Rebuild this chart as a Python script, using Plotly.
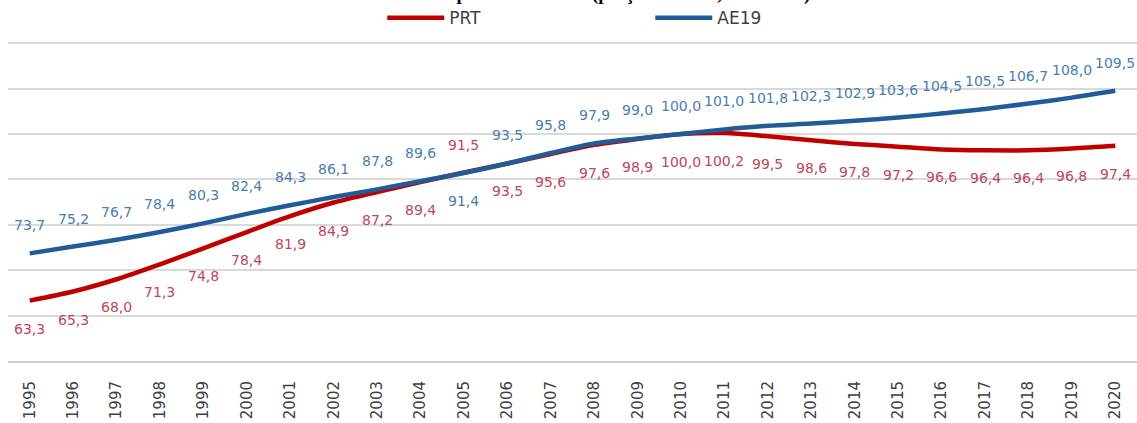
import plotly.graph_objects as go

# Index values (2010 = 100)
years = [str(y) for y in range(1995, 2021)]
prt = [63.3, 65.3, 68.0, 71.3, 74.8, 78.4, 81.9, 84.9, 87.2, 89.4, 91.5, 93.5, 95.6,
       97.6, 98.9, 100.0, 100.2, 99.5, 98.6, 97.8, 97.2, 96.6, 96.4, 96.4, 96.8, 97.4]
ae19 = [73.7, 75.2, 76.7, 78.4, 80.3, 82.4, 84.3, 86.1, 87.8, 89.6, 91.4, 93.5, 95.8,
        97.9, 99.0, 100.0, 101.0, 101.8, 102.3, 102.9, 103.6, 104.5, 105.5, 106.7, 108.0, 109.5]

title_text = "Produtividade por trabalhador (preços de 2010, 2010=100)"

PRT_LINE = "#C00000"
AE_LINE = "#1F5C99"
PRT_LABEL = "#C0455A"
AE_LABEL = "#4A7DB0"
LABEL_FONT = "DejaVu Sans"


def fmt(v):
    return f"{v:.1f}".replace(".", ",")


fig = go.Figure()
fig.add_trace(go.Scatter(x=years, y=prt, name="PRT", mode="lines",
                         line=dict(color=PRT_LINE, width=4.5, shape="spline", smoothing=0.8)))
fig.add_trace(go.Scatter(x=years, y=ae19, name="AE19", mode="lines",
                         line=dict(color=AE_LINE, width=4.5, shape="spline", smoothing=0.8)))

# Value labels: the higher series of each year goes above its line, the other below.
# On a category axis annotations are placed by category index.
annotations = []
for i, (p, a) in enumerate(zip(prt, ae19)):
    a_up = a >= p
    annotations.append(dict(x=i, y=a, xref="x", yref="y", text=fmt(a), showarrow=False,
                            yshift=28 if a_up else -28,
                            font=dict(family=LABEL_FONT, size=14, color=AE_LABEL)))
    annotations.append(dict(x=i, y=p, xref="x", yref="y", text=fmt(p), showarrow=False,
                            yshift=-28 if a_up else 28,
                            font=dict(family=LABEL_FONT, size=14, color=PRT_LABEL)))

annotations.append(dict(x=0.5, y=1.109, xref="paper", yref="paper", text=f"<b>{title_text}</b>",
                        showarrow=False, xanchor="center", yanchor="bottom",
                        font=dict(family="Liberation Serif", size=19, color="#000000")))

fig.update_layout(
    width=1137, height=423,
    margin=dict(l=8, r=0, t=40, b=62),
    paper_bgcolor="white", plot_bgcolor="white",
    showlegend=True,
    legend=dict(orientation="h", x=0.3315, xanchor="left", y=1.075, yanchor="middle",
                font=dict(family=LABEL_FONT, size=17, color="#404040"),
                itemwidth=57, entrywidth=196, bgcolor="rgba(0,0,0,0)"),
    annotations=annotations,
    xaxis=dict(type="category", range=[-0.5, 25.5], showgrid=False, zeroline=False,
               showline=True, linecolor="#D0D0D0", linewidth=2, ticks="",
               tickangle=-90, ticklabelstandoff=12,
               tickfont=dict(family=LABEL_FONT, size=15, color="#404040")),
    yaxis=dict(range=[50, 120.25], tickvals=[50, 60, 70, 80, 90, 100, 110, 120],
               showticklabels=False, showgrid=True,
               gridcolor="#D9D9D9", gridwidth=1.5, zeroline=False, showline=False),
)

fig.write_html("out.html")
